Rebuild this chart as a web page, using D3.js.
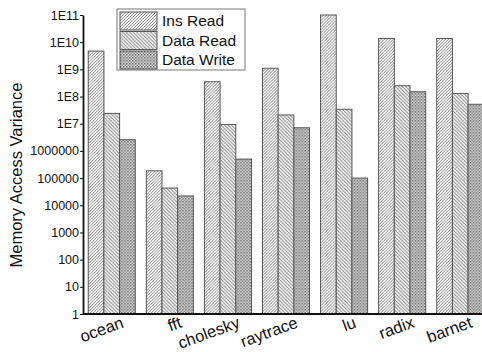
<!DOCTYPE html>
<html>
<head>
<meta charset="utf-8">
<script src="https://cdn.jsdelivr.net/npm/d3@7"></script>
<style>
  body { margin: 0; background: #fff; }
  text { font-family: Arial, "Liberation Sans", sans-serif; fill: #111; }
</style>
</head>
<body>
<div id="chart"></div>
<script>
// benchmarks and the three series (log scale values)
const benchmarks = ['ocean', 'fft', 'cholesky', 'raytrace', 'lu', 'radix', 'barnet'];
const seriesNames = ['Ins Read', 'Data Read', 'Data Write'];
const insRead = [4.7e9, 1.85e5, 3.5e8, 1.1e9, 1e11, 1.37e10, 1.37e10];
const dataRead = [2.4e7, 4.3e4, 9.4e6, 2.1e7, 3.4e7, 2.5e8, 1.3e8];
const dataWrite = [2.6e6, 2.2e4, 5e5, 7.1e6, 1e5, 1.5e8, 5.2e7];
const yTicks = [1, 10, 100, 1000, 1e4, 1e5, 1e6, 1e7, 1e8, 1e9, 1e10, 1e11];

const width = 482, height = 352;
const svg = d3.select('#chart').append('svg')
  .attr('width', width)
  .attr('height', height);

// fill patterns
const defs = svg.append('defs');
const p1 = defs.append('pattern').attr('id', 'pIns')
  .attr('patternUnits', 'userSpaceOnUse').attr('width', 3).attr('height', 3);
p1.append('rect').attr('width', 3).attr('height', 3).attr('fill', '#fff');
p1.append('path').attr('d', 'M-1,1 L1,-1 M0,3 L3,0 M2,4 L4,2')
  .attr('stroke', '#777').attr('stroke-width', 0.9);

const p2 = defs.append('pattern').attr('id', 'pRead')
  .attr('patternUnits', 'userSpaceOnUse').attr('width', 3.5).attr('height', 3.5);
p2.append('rect').attr('width', 3.5).attr('height', 3.5).attr('fill', '#fff');
p2.append('path').attr('d', 'M-1,2.5 L1,4.5 M0,0 L3.5,3.5 M2.5,-1 L4.5,1')
  .attr('stroke', '#777').attr('stroke-width', 0.9);

const p3 = defs.append('pattern').attr('id', 'pWrite')
  .attr('patternUnits', 'userSpaceOnUse').attr('width', 3).attr('height', 3);
p3.append('rect').attr('width', 3).attr('height', 3).attr('fill', '#ddd');
p3.append('rect').attr('width', 1.5).attr('height', 1.5).attr('fill', '#666');
p3.append('rect').attr('x', 1.5).attr('y', 1.5).attr('width', 1.5).attr('height', 1.5).attr('fill', '#888');

const fills = ['url(#pIns)', 'url(#pRead)', 'url(#pWrite)'];
const series = [insRead, dataRead, dataWrite];

const x = d3.scaleBand()
  .domain(benchmarks)
  .range([83, 489])
  .paddingInner(0.19)
  .paddingOuter(0.09);

const xs = d3.scaleBand()
  .domain(seriesNames)
  .range([0, x.bandwidth()]);

const y = d3.scaleLog()
  .domain([1, 1e11])
  .range([314, 15]);

// bars
const groups = svg.selectAll('.grp')
  .data(benchmarks)
  .enter().append('g')
  .attr('transform', d => `translate(${x(d)},0)`);

groups.selectAll('rect')
  .data((d, i) => seriesNames.map((s, j) => ({ s: s, v: series[j][i], j: j })))
  .enter().append('rect')
  .attr('x', d => xs(d.s))
  .attr('y', d => y(d.v))
  .attr('width', xs.bandwidth())
  .attr('height', d => y(1) - y(d.v))
  .attr('fill', d => fills[d.j])
  .attr('stroke', '#555')
  .attr('stroke-width', 1);

// y axis
const fmt = v => v <= 1e6 ? String(v) : '1E' + Math.round(Math.log10(v));
const yAxis = svg.append('g')
  .attr('transform', 'translate(83,0)')
  .call(d3.axisLeft(y).tickValues(yTicks).tickFormat(fmt).tickSize(3).tickSizeOuter(0));
yAxis.select('.domain').attr('stroke', '#111').attr('stroke-width', 1.8);
yAxis.selectAll('.tick line').attr('stroke', '#111');
yAxis.selectAll('.tick text')
  .attr('x', -4)
  .style('font-size', '12.5px')
  .style('font-family', 'Arial, "Liberation Sans", sans-serif')
  .attr('fill', '#111');

// x axis line
const xAxis = svg.append('g')
  .attr('transform', 'translate(0,314)')
  .call(d3.axisBottom(x).tickSize(0).tickSizeOuter(0));
xAxis.select('.domain').attr('stroke', '#111').attr('stroke-width', 1.8)
  .attr('d', 'M83,0H482');
xAxis.selectAll('.tick text')
  .attr('text-anchor', 'end')
  .attr('y', 0)
  .attr('dy', 0)
  .attr('transform', 'translate(13,13) rotate(-20)')
  .style('font-size', '16.5px')
  .style('font-family', 'Arial, "Liberation Sans", sans-serif')
  .attr('fill', '#111');

// y label
svg.append('text')
  .attr('transform', 'translate(22,175) rotate(-90)')
  .attr('text-anchor', 'middle')
  .style('font-size', '16.5px')
  .text('Memory Access Variance');

// legend
const legend = svg.append('g').attr('transform', 'translate(117,9)');
legend.append('rect')
  .attr('width', 128).attr('height', 61)
  .attr('fill', '#fff').attr('stroke', '#777').attr('stroke-width', 1);
seriesNames.forEach((s, i) => {
  legend.append('rect')
    .attr('x', 3).attr('y', 3 + i * 19.5)
    .attr('width', 37).attr('height', 18)
    .attr('fill', fills[i]).attr('stroke', '#555');
  legend.append('text')
    .attr('x', 45).attr('y', 12 + i * 19.5)
    .attr('dy', '0.35em')
    .style('font-size', '15.5px')
    .text(s);
});
</script>
</body>
</html>
